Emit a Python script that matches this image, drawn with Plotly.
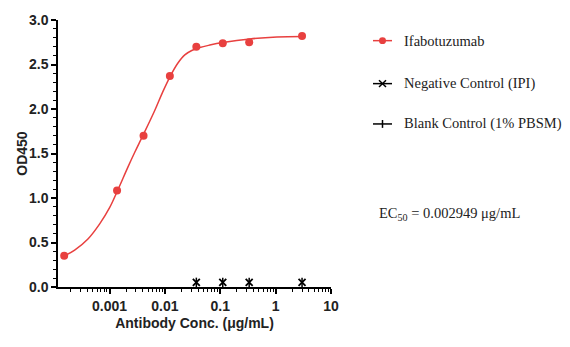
import plotly.graph_objects as go

# ---- data ----
conc = [0.000152, 0.00137, 0.00412, 0.0123, 0.037, 0.111, 0.333, 3.0]
od_ifa = [0.35, 1.085, 1.70, 2.37, 2.70, 2.74, 2.75, 2.82]

# fitted curve
fit_conc = [0.000155, 0.000235, 0.000408, 0.000665, 0.00101, 0.00139, 0.00216, 0.00286,
            0.00352, 0.00421, 0.00656, 0.00916, 0.01262, 0.0171, 0.0229, 0.0306, 0.0428,
            0.0649, 0.1114, 0.343, 1.056, 3.12]
fit_od = [0.351, 0.415, 0.540, 0.710, 0.895, 1.080, 1.350, 1.514,
          1.630, 1.729, 1.983, 2.193, 2.373, 2.514, 2.608, 2.657, 2.691,
          2.718, 2.746, 2.787, 2.809, 2.815]

neg_conc = [0.037, 0.111, 0.333, 3.0]
neg_od = [0.052, 0.052, 0.052, 0.052]
blank_conc = [0.037, 0.111, 0.333, 3.0]
blank_od = [0.05, 0.05, 0.05, 0.05]

x_tickvals = [0.001, 0.01, 0.1, 1, 10]
x_ticktext = ["0.001", "0.01", "0.1", "1", "10"]

series_names = ["Ifabotuzumab", "Negative Control (IPI)", "Blank Control (1% PBSM)"]
ec50_text = "EC<sub>50</sub> = 0.002949 μg/mL"
x_title = "Antibody Conc. (μg/mL)"
y_title = "OD450"

RED = "#E8403F"

fig = go.Figure()
fig.add_trace(go.Scatter(x=fit_conc, y=fit_od, mode="lines",
                         line=dict(color=RED, width=1.5, shape="spline", smoothing=1.0),
                         showlegend=False, hoverinfo="skip"))
fig.add_trace(go.Scatter(x=conc, y=od_ifa, mode="markers", marker=dict(color=RED, size=8),
                         name=series_names[0], showlegend=False))
fig.add_trace(go.Scatter(x=blank_conc, y=blank_od, mode="markers",
                         marker=dict(symbol="line-ns", size=7, line=dict(color="black", width=1.5)),
                         name=series_names[2], showlegend=False))
fig.add_trace(go.Scatter(x=neg_conc, y=neg_od, mode="markers",
                         marker=dict(symbol="x-thin", size=7, line=dict(color="black", width=1.8)),
                         name=series_names[1], showlegend=False))

# plot area in pixels: x 58..331, y 16..287.5
L, R, T, B = 58, 331, 16, 287.5
W, H = 570, 347
def px(p):
    return (p - L) / (R - L)
def py(p):
    return (B - p) / (B - T)

shapes = []
annotations = []
rows = [37, 80.7, 121.7]
# legend row 1: red line + circle
shapes.append(dict(type="line", xref="paper", yref="paper", x0=px(373), x1=px(392), y0=py(rows[0]), y1=py(rows[0]),
                   line=dict(color=RED, width=1.5)))
shapes.append(dict(type="circle", xref="paper", yref="paper", x0=px(379), x1=px(386), y0=py(rows[0] + 3.5), y1=py(rows[0] - 3.5),
                   fillcolor=RED, line=dict(color=RED, width=0)))
# legend row 2: black line + x
shapes.append(dict(type="line", xref="paper", yref="paper", x0=px(373), x1=px(392), y0=py(rows[1]), y1=py(rows[1]),
                   line=dict(color="black", width=1.5)))
shapes.append(dict(type="line", xref="paper", yref="paper", x0=px(379), x1=px(386), y0=py(rows[1] - 3.5), y1=py(rows[1] + 3.5),
                   line=dict(color="black", width=1.5)))
shapes.append(dict(type="line", xref="paper", yref="paper", x0=px(379), x1=px(386), y0=py(rows[1] + 3.5), y1=py(rows[1] - 3.5),
                   line=dict(color="black", width=1.5)))
# legend row 3: black line + vertical tick
shapes.append(dict(type="line", xref="paper", yref="paper", x0=px(373), x1=px(392), y0=py(rows[2]), y1=py(rows[2]),
                   line=dict(color="black", width=1.5)))
shapes.append(dict(type="line", xref="paper", yref="paper", x0=px(382.5), x1=px(382.5), y0=py(rows[2] - 4), y1=py(rows[2] + 4),
                   line=dict(color="black", width=1.5)))

serif = dict(family="Liberation Serif, Times New Roman, serif", size=14.5, color="#222")
for name, r in zip(series_names, rows):
    annotations.append(dict(text=name, xref="paper", yref="paper", x=px(402), y=py(r), xanchor="left", yanchor="middle",
                            showarrow=False, font=serif))
annotations.append(dict(text=ec50_text, xref="paper", yref="paper", x=px(377), y=py(213), xanchor="left", yanchor="middle",
                        showarrow=False, font=serif))

axis_font = dict(family="Liberation Sans, Arial, sans-serif", size=14, color="#222", weight="bold")

annotations.append(dict(text=y_title, xref="paper", yref="paper", x=px(22), y=py(152), xanchor="center", yanchor="middle",
                        textangle=-90, showarrow=False, font=axis_font))

fig.update_layout(
    width=W, height=H,
    margin=dict(l=L, r=W - R, t=T, b=H - B),
    plot_bgcolor="white", paper_bgcolor="white",
    showlegend=False,
    shapes=shapes, annotations=annotations,
    xaxis=dict(type="log", range=[-3.93, 1.0], tickvals=x_tickvals, ticktext=x_ticktext,
               showline=True, linecolor="black", linewidth=1.5, ticks="outside", ticklen=5, tickwidth=1.5,
               tickcolor="black", showgrid=False, zeroline=False, tickfont=axis_font,
               minor=dict(ticks="outside", ticklen=3, tickwidth=1.2, tickcolor="black", dtick="D1", showgrid=False),
               title=dict(text=x_title, font=axis_font, standoff=6)),
    yaxis=dict(range=[0, 3.0], dtick=0.5, tickformat=".1f",
               showline=True, linecolor="black", linewidth=1.5, ticks="outside", ticklen=5, tickwidth=1.5,
               tickcolor="black", showgrid=False, zeroline=False, tickfont=axis_font,
               minor=dict(ticks="outside", ticklen=3, tickwidth=1.2, tickcolor="black", dtick=0.1, showgrid=False)),
)

fig.write_html("out.html")
